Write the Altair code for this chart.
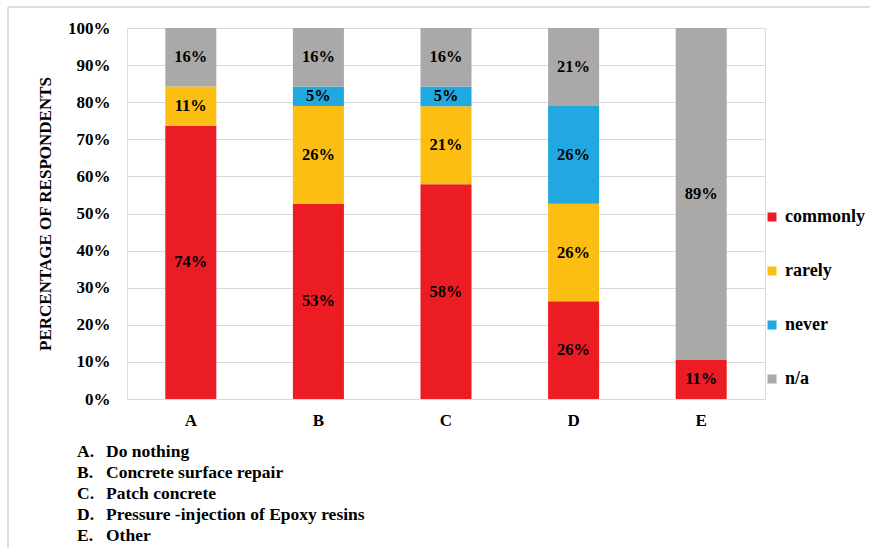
import altair as alt
import pandas as pd

categories = ["A", "B", "C", "D", "E"]
responses = ["commonly", "rarely", "never", "n/a"]
commonly = [73.68, 52.63, 57.89, 26.32, 10.53]
rarely = [10.53, 26.32, 21.05, 26.32, 0.0]
never = [0.0, 5.26, 5.26, 26.32, 0.0]
not_applicable = [15.79, 15.79, 15.79, 21.05, 89.47]
descriptions = ["Do nothing", "Concrete surface repair", "Patch concrete",
                "Pressure -injection of Epoxy resins", "Other"]
colors = ["#EC1C24", "#FDBE14", "#22A8E0", "#ABA9A8"]

FONT = "Liberation Serif"

rows = []
for i, c in enumerate(categories):
    for j, vals in enumerate([commonly, rarely, never, not_applicable]):
        rows.append({"cat": c, "resp": responses[j], "order": j, "value": vals[i] / 100})
df = pd.DataFrame(rows)

desc_df = pd.DataFrame({
    "letter": [c + "." for c in categories],
    "desc": descriptions,
    "row": list(range(len(categories))),
})

base = alt.Chart(df).transform_stack(
    stack="value", groupby=["cat"], as_=["y0", "y1"], sort=[alt.SortField("order")]
).transform_calculate(
    mid="(datum.y0 + datum.y1) / 2",
    label="format(datum.value * 100, '.0f') + '%'",
)

x_enc = alt.X("cat:N", sort=categories, title=None,
              scale=alt.Scale(paddingInner=0.6, paddingOuter=0.3),
              axis=alt.Axis(labelAngle=0, labelFont=FONT, labelFontSize=17,
                            labelFontWeight="bold", labelColor="#000000",
                            labelPadding=13, ticks=False, tickSize=0, domain=False))

bars = base.mark_bar().encode(
    x=x_enc,
    y=alt.Y("y0:Q", scale=alt.Scale(domain=[0, 1]),
            title="PERCENTAGE OF RESPONDENTS",
            axis=alt.Axis(format=".0%", values=[i / 10 for i in range(11)],
                          labelFont=FONT, labelFontSize=17, labelFontWeight="bold",
                          labelColor="#000000", labelPadding=17, ticks=False, tickSize=0,
                          domain=False, gridColor="#D9D9D9", gridWidth=1,
                          titleFont=FONT, titleFontSize=17, titleFontWeight="bold",
                          titleColor="#000000", titlePadding=13)),
    y2="y1:Q",
    color=alt.Color("resp:N", scale=alt.Scale(domain=responses, range=colors),
                    legend=alt.Legend(title=None, orient="none", legendX=636, legendY=180,
                                      symbolType="square", symbolSize=81,
                                      symbolStrokeWidth=0, rowPadding=36,
                                      labelFont=FONT, labelFontSize=18,
                                      labelFontWeight="bold", labelColor="#000000",
                                      labelOffset=4)),
    order=alt.Order("order:Q"),
)

labels = base.transform_filter("datum.value > 0").mark_text(
    font=FONT, fontSize=16.5, fontWeight="bold", color="#000000", baseline="middle"
).encode(
    x=alt.X("cat:N", sort=categories),
    y=alt.Y("mid:Q", scale=alt.Scale(domain=[0, 1]), axis=None),
    text="label:N",
)

desc_y = alt.Y("row:Q", scale=alt.Scale(domain=[0, 4], range=[424, 508]), axis=None)
letters = alt.Chart(desc_df).mark_text(
    font=FONT, fontSize=17.5, fontWeight="bold", color="#000000", align="left", baseline="middle"
).encode(x=alt.value(-50), y=desc_y, text="letter:N")
descs = alt.Chart(desc_df).mark_text(
    font=FONT, fontSize=17.5, fontWeight="bold", color="#000000", align="left", baseline="middle"
).encode(x=alt.value(-21), y=desc_y, text="desc:N")

frame_v = alt.Chart(desc_df).mark_rule(color="#DDDDDD", strokeWidth=1.5).encode(
    x=alt.value(-119), y=alt.value(-21), y2=alt.value(540))
frame_h = alt.Chart(desc_df).mark_rule(color="#DDDDDD", strokeWidth=1.5).encode(
    x=alt.value(-119), x2=alt.value(760), y=alt.value(-21))

chart = alt.layer(bars, labels, letters, descs, frame_v, frame_h).resolve_scale(
    y="independent"
).properties(
    width=638, height=371,
    autosize=alt.AutoSizeParams(type="none"),
    padding={"left": 127, "top": 28, "right": 105, "bottom": 149},
).configure_view(stroke=None).configure(background="#FFFFFF")

chart.save("out.html", embed_options={"renderer": "svg", "actions": False})
